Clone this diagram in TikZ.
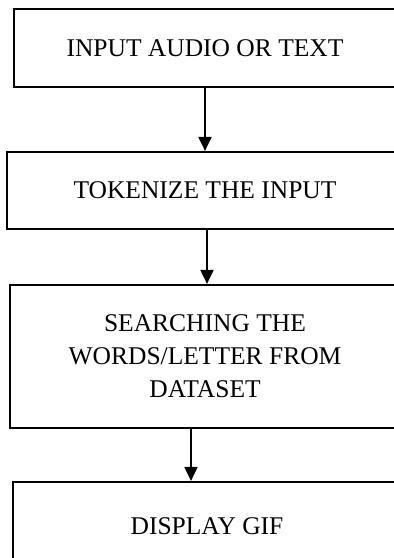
\documentclass[tikz,border=0pt]{standalone}
\usepackage{fontspec}
\setmainfont{Liberation Serif}
\usetikzlibrary{arrows.meta}
\begin{document}
\begin{tikzpicture}[x=1pt,y=-1pt,
  stepbox/.style={draw=black, line width=2.2pt, rectangle, inner sep=0pt,
    align=center, font=\fontsize{25.5}{33}\selectfont},
  flow/.style={line width=2pt, -{Triangle[width=13pt,length=14pt]}}]
\clip (0,0) rectangle (394,558);
\fill[white] (0,0) rectangle (394,558);
\node[stepbox, minimum width=382pt, minimum height=78pt] (b1) at (205,48) {INPUT AUDIO OR TEXT};
\node[stepbox, minimum width=396pt, minimum height=77pt] (b2) at (205,190.5) {TOKENIZE THE INPUT};
\node[stepbox, minimum width=390pt, minimum height=143pt] (b3) at (205,356.5) {SEARCHING THE\\WORDS/LETTER FROM\\DATASET};
\node[stepbox, minimum width=388pt, minimum height=88pt] (b4) at (207,526) {DISPLAY GIF};
\draw[flow] (b1.south) -- (b2.north);
\draw[flow] ([xshift=2pt]b2.south) -- ([xshift=2pt]b3.north);
\draw[flow] ([xshift=-14pt]b3.south) -- ([xshift=-16pt]b4.north);
\end{tikzpicture}
\end{document}
